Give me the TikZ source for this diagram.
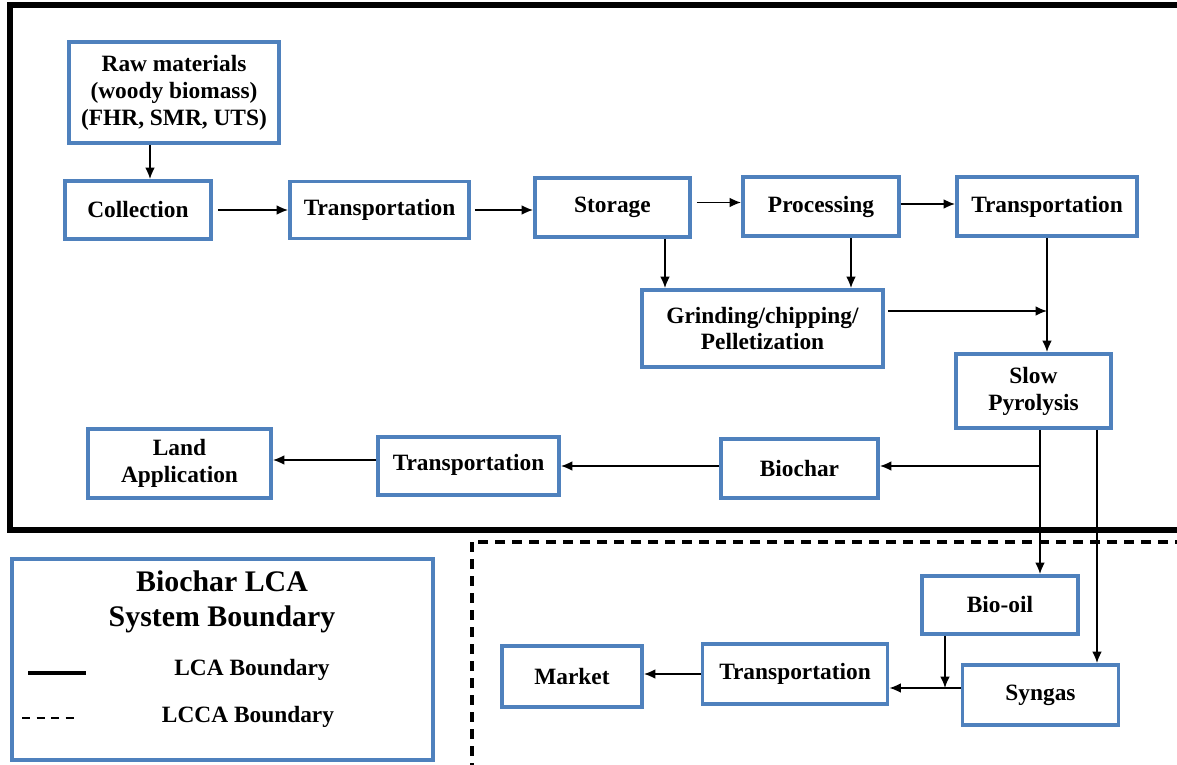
\documentclass[tikz,border=0pt]{standalone}
\usepackage{fontspec}
\setmainfont{Liberation Serif}
\usetikzlibrary{arrows.meta}
\definecolor{boxblue}{RGB}{79,129,189}
\begin{document}
\begin{tikzpicture}[
  box/.style={draw=boxblue,line width=2.2pt,rectangle,align=center,inner sep=2pt,font=\fontsize{13.3}{15.3}\selectfont\bfseries},
  arr/.style={line width=0.9pt,-{Latex[length=6.5pt,width=5.5pt]}}
]
\useasboundingbox (0,0) rectangle (23.54,-15.3);

% System boundaries
\draw[line width=3.3pt] (0.2,-0.1) rectangle (24.5,-10.6);
\draw[line width=2pt,dash pattern=on 0.2cm off 0.14cm] (9.44,-10.84) rectangle (24.5,-16);

% Supply chain
\node[box,minimum width=4.2cm,minimum height=2.02cm] (raw) at (3.48,-1.85) {Raw materials\\(woody biomass)\\(FHR, SMR, UTS)};
\node[box,minimum width=2.92cm,minimum height=1.16cm] (collection) at (2.76,-4.2) {Collection};
\node[box,minimum width=3.58cm,minimum height=1.14cm] (trans1) at (7.59,-4.2) {Transportation};
\node[box,minimum width=3.1cm,minimum height=1.18cm] (storage) at (12.25,-4.15) {Storage};
\node[box,minimum width=3.12cm,minimum height=1.18cm] (processing) at (16.42,-4.13) {Processing};
\node[box,minimum width=3.6cm,minimum height=1.18cm] (trans2) at (20.94,-4.13) {Transportation};
\node[box,minimum width=4.82cm,minimum height=1.54cm] (grinding) at (15.25,-6.57) {Grinding/chipping/\\Pelletization};
\node[box,minimum width=3.1cm,minimum height=1.48cm] (pyrolysis) at (20.67,-7.82) {Slow\\Pyrolysis};

% Biochar route
\node[box,minimum width=3.14cm,minimum height=1.18cm] (biochar) at (15.99,-9.37) {Biochar};
\node[box,minimum width=3.62cm,minimum height=1.16cm] (trans3) at (9.37,-9.32) {\raisebox{0.14cm}{Transportation}};
\node[box,minimum width=3.66cm,minimum height=1.38cm] (land) at (3.59,-9.27) {Land\\Application};

% Co-products
\node[box,minimum width=3.12cm,minimum height=1.16cm] (biooil) at (20.0,-12.1) {Bio-oil};
\node[box,minimum width=3.12cm,minimum height=1.2cm] (syngas) at (20.81,-13.9) {Syngas};
\node[box,minimum width=3.7cm,minimum height=1.2cm] (trans4) at (15.9,-13.48) {Transportation};
\node[box,minimum width=2.8cm,minimum height=1.22cm] (market) at (11.44,-13.53) {Market};

% Flows
\draw[arr] ([xshift=-0.48cm]raw.south) -- ([xshift=-0.48cm]raw.south |- collection.north);
\draw[arr] ([xshift=0.1cm]collection.east) -- (collection.east -| trans1.west);
\draw[arr] ([xshift=0.08cm]trans1.east) -- (trans1.east -| storage.west);
\coordinate (stoout) at ([yshift=0.1cm,xshift=0.1cm]storage.east);
\draw[arr] (stoout) -- (stoout -| processing.west);
\coordinate (proout) at ([yshift=0.05cm]processing.east);
\draw[arr] (proout) -- (proout -| trans2.west);
\coordinate (stodown) at ([xshift=1.05cm]storage.south);
\draw[arr] (stodown) -- (stodown |- grinding.north);
\coordinate (prodown) at ([xshift=0.6cm]processing.south);
\draw[arr] (prodown) -- (prodown |- grinding.north);
\draw[arr] (trans2.south) -- (trans2.south |- pyrolysis.north);
\coordinate (grout) at ([yshift=0.35cm,xshift=0.06cm]grinding.east);
\draw[arr] (grout) -- (grout -| trans2.south);

\coordinate (tap) at ([xshift=0.13cm]pyrolysis.south);
\draw[arr] (tap) -- (tap |- biooil.north);
\coordinate (charin) at ([yshift=0.05cm]biochar.east);
\draw[arr] (tap |- charin) -- (charin);
\coordinate (gastap) at ([xshift=1.27cm]pyrolysis.south);
\draw[arr] (gastap) -- (gastap |- syngas.north);
\coordinate (charout) at ([yshift=0.05cm]biochar.west);
\draw[arr] (charout) -- (charout -| trans3.east);
\coordinate (t3out) at ([yshift=0.12cm]trans3.west);
\draw[arr] (t3out) -- (t3out -| land.east);

\coordinate (gasout) at ([yshift=0.14cm]syngas.west);
\draw[arr] (gasout) -- (gasout -| trans4.east);
\coordinate (oildown) at ([xshift=-1.1cm]biooil.south);
\draw[arr] (oildown) -- (oildown |- gasout);
\draw[arr] (trans4.west) -- (trans4.west -| market.east);

% Legend
\node[draw=boxblue,line width=2.2pt,minimum width=8.42cm,minimum height=4.02cm] (legend) at (4.45,-13.19) {};
\node[align=center,font=\fontsize{17}{20}\selectfont\bfseries] (title) at (4.44,-12.04) {Biochar LCA\\System Boundary};
\node[font=\fontsize{13.3}{15}\selectfont\bfseries] (lcakey) at (5.04,-13.4) {LCA Boundary};
\node[font=\fontsize{13.3}{15}\selectfont\bfseries] (lccakey) at (4.96,-14.34) {LCCA Boundary};
\draw[line width=1.8pt] (0.56,-13.46) -- (1.72,-13.46);
\draw[line width=1.1pt,dash pattern=on 0.16cm off 0.13cm] (0.44,-14.36) -- (1.6,-14.36);
\end{tikzpicture}
\end{document}
